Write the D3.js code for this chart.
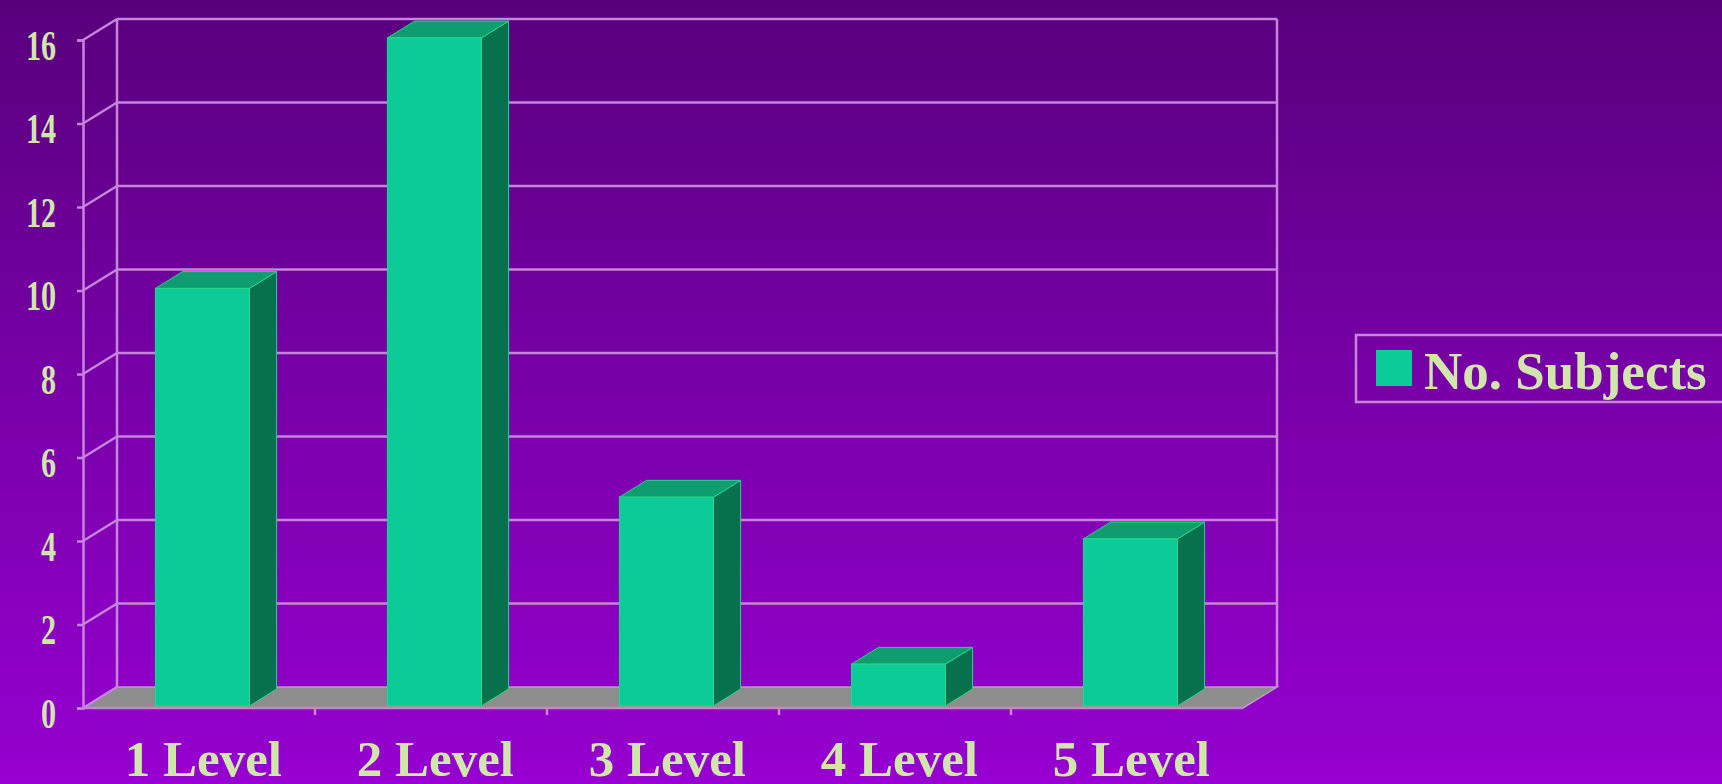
<!DOCTYPE html>
<html>
<head>
<meta charset="utf-8">
<script src="https://cdn.jsdelivr.net/npm/d3@7"></script>
<style>
  html, body { margin: 0; padding: 0; overflow: hidden; }
  svg { display: block; }
</style>
</head>
<body>
<svg id="chart" width="1722" height="784"></svg>
<script>
// data
var categories = ["1 Level", "2 Level", "3 Level", "4 Level", "5 Level"];
var subjects = [10, 16, 5, 1, 4];
var yTicks = [0, 2, 4, 6, 8, 10, 12, 14, 16];
var seriesName = "No. Subjects";

var W = 1722, H = 784;
var depthX = 34, depthY = -21;          // 3d depth of the plot
var barFront = 0.1, barBack = 0.9;      // bar position inside the depth
var lineColor = "#c684dc";
var textColor = "#d0e6aa";
var fontFamily = "'Liberation Serif','DejaVu Serif','Times New Roman',serif";

var svg = d3.select("#chart");

var defs = svg.append("defs");
var bg = defs.append("linearGradient")
    .attr("id", "bg")
    .attr("x1", 0).attr("y1", 0).attr("x2", 0).attr("y2", 1);
bg.append("stop").attr("offset", "0%").attr("stop-color", "#58007c");
bg.append("stop").attr("offset", "50%").attr("stop-color", "#7800a8");
bg.append("stop").attr("offset", "100%").attr("stop-color", "#9600d0");

svg.append("rect")
    .attr("width", W).attr("height", H)
    .attr("fill", "url(#bg)");

var x = d3.scaleBand()
    .domain(categories)
    .range([83, 1243])
    .padding(0);

var y = d3.scaleLinear()
    .domain([0, 16])
    .range([708, 40]);

var x0 = x.range()[0], x1 = x.range()[1];

/**
 * walls and grid
 */
var grid = svg.append("g").classed("grid", true);

// floor
grid.append("polygon")
    .attr("points", [
        [x0, y(0)], [x1, y(0)],
        [x1 + depthX, y(0) + depthY], [x0 + depthX, y(0) + depthY]
    ].map(function(p){ return p.join(","); }).join(" "))
    .attr("fill", "#8e8e8e")
    .attr("stroke", "#b8a0c0")
    .attr("stroke-width", 1.5);

// horizontal gridlines on back wall
grid.selectAll("line.hgrid")
    .data(yTicks.filter(function(d){ return d > 0; }))
    .enter().append("line")
    .classed("hgrid", true)
    .attr("x1", x0 + depthX).attr("x2", x1 + depthX)
    .attr("y1", function(d){ return y(d) + depthY; })
    .attr("y2", function(d){ return y(d) + depthY; });

// diagonal lines on side wall
grid.selectAll("line.dgrid")
    .data(yTicks)
    .enter().append("line")
    .classed("dgrid", true)
    .attr("x1", x0).attr("x2", x0 + depthX)
    .attr("y1", function(d){ return y(d); })
    .attr("y2", function(d){ return y(d) + depthY; });

// back wall edges
grid.append("line")
    .attr("x1", x0 + depthX).attr("x2", x0 + depthX)
    .attr("y1", y(0) + depthY).attr("y2", y(16) + depthY);
grid.append("line")
    .attr("x1", x1 + depthX).attr("x2", x1 + depthX)
    .attr("y1", y(0) + depthY).attr("y2", y(16) + depthY);

grid.selectAll("line")
    .attr("stroke", lineColor)
    .attr("stroke-width", 2.5);

/**
 * bars, drawn as three faces each
 */
var barW = x.bandwidth() * 0.405;
var fx = depthX * barFront, fy = depthY * barFront;
var bdx = depthX * (barBack - barFront), bdy = depthY * (barBack - barFront);

var bars = svg.append("g").classed("bars", true)
    .selectAll("g.bar")
    .data(categories.map(function(c, i){ return {cat: c, value: subjects[i]}; }))
    .enter().append("g")
    .classed("bar", true);

function barLeft(d){ return x(d.cat) + (x.bandwidth() - barW) / 2 + fx; }

// side face
bars.append("polygon")
    .attr("points", function(d){
        var l = barLeft(d) + barW, t = y(d.value) + fy, b = y(0) + fy;
        return [[l, t], [l + bdx, t + bdy], [l + bdx, b + bdy], [l, b]]
            .map(function(p){ return p.join(","); }).join(" ");
    })
    .attr("fill", "#07704c");

// top face
bars.append("polygon")
    .attr("points", function(d){
        var l = barLeft(d), t = y(d.value) + fy;
        return [[l, t], [l + barW, t], [l + barW + bdx, t + bdy], [l + bdx, t + bdy]]
            .map(function(p){ return p.join(","); }).join(" ");
    })
    .attr("fill", "#0f9c6e");

// front face
bars.append("rect")
    .attr("x", barLeft)
    .attr("y", function(d){ return y(d.value) + fy; })
    .attr("width", barW)
    .attr("height", function(d){ return y(0) - y(d.value); })
    .attr("fill", "#0ccb97");

bars.selectAll("polygon, rect")
    .attr("stroke", "#22d98a")
    .attr("stroke-width", 1);

/**
 * axes
 */
var yAxis = svg.append("g")
    .classed("y-axis", true)
    .attr("transform", "translate(" + x0 + ",0)")
    .call(d3.axisLeft(y).tickValues(yTicks).tickSize(6).tickPadding(16));

var xAxis = svg.append("g")
    .classed("x-axis", true)
    .attr("transform", "translate(" + (fx + 1) + "," + y(0) + ")")
    .call(d3.axisBottom(x).tickSize(0).tickPadding(32));

// baseline with ticks at category boundaries
var base = svg.append("g").classed("baseline", true);
base.append("line")
    .attr("x1", x0).attr("x2", x1)
    .attr("y1", y(0)).attr("y2", y(0));
base.selectAll("line.btick")
    .data(categories.slice(1))
    .enter().append("line")
    .classed("btick", true)
    .attr("x1", function(d){ return x(d); })
    .attr("x2", function(d){ return x(d); })
    .attr("y1", y(0)).attr("y2", y(0) + 7);
base.selectAll("line")
    .attr("stroke", lineColor)
    .attr("stroke-width", 2.5);

svg.selectAll(".y-axis path, .y-axis line, .x-axis path")
    .attr("stroke", lineColor)
    .attr("stroke-width", 2.5);
svg.select(".x-axis path").remove();

// y labels look condensed in the picture
var ySquash = 0.7;
yAxis.selectAll("text")
    .attr("x", -27 / ySquash)
    .attr("dy", "0.45em")
    .attr("transform", "scale(" + ySquash + ",1)")
    .attr("fill", textColor)
    .style("font-family", fontFamily)
    .style("font-weight", "bold")
    .style("font-size", "43px");

xAxis.selectAll("text")
    .attr("fill", textColor)
    .style("font-family", fontFamily)
    .style("font-weight", "bold")
    .style("font-size", "51px");

/**
 * legend
 */
var legend = svg.append("g").classed("legend", true);
legend.append("rect")
    .attr("x", 1356).attr("y", 335)
    .attr("width", 400).attr("height", 67)
    .attr("fill", "none")
    .attr("stroke", lineColor)
    .attr("stroke-width", 2.5);
legend.append("rect")
    .attr("x", 1376).attr("y", 350)
    .attr("width", 36).attr("height", 36)
    .attr("fill", "#0ccb97");
legend.append("text")
    .attr("x", 1424).attr("y", 389)
    .attr("fill", textColor)
    .style("font-family", fontFamily)
    .style("font-weight", "bold")
    .style("font-size", "53px")
    .text(seriesName);
</script>
</body>
</html>
